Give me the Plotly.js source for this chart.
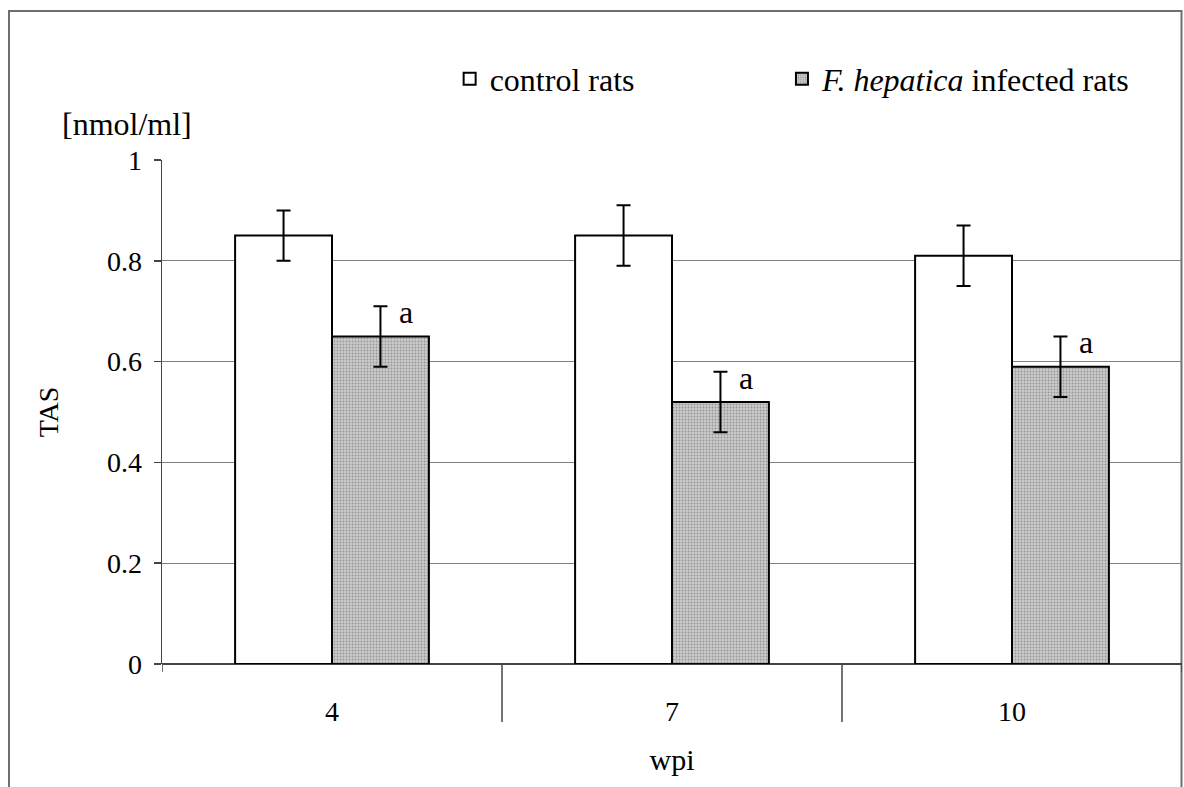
<!DOCTYPE html>
<html>
<head>
<meta charset="utf-8">
<script src="https://cdn.plot.ly/plotly-3.0.1.min.js"></script>
<style>
  html, body { margin: 0; padding: 0; background: #ffffff; }
  #chart { width: 1184px; height: 787px; }
</style>
</head>
<body>
<div id="chart"></div>
<script>
// ---- data ----
const weeks = ['4', '7', '10'];
const controlTAS = [0.85, 0.85, 0.81];
const controlErr = [0.05, 0.06, 0.06];
const infectedTAS = [0.65, 0.52, 0.59];
const infectedErr = [0.06, 0.06, 0.06];
const sigMarks = ['a', 'a', 'a'];
const yTickVals = [0, 0.2, 0.4, 0.6, 0.8, 1];

const serif = '"Liberation Serif", "Times New Roman", Times, serif';
const txt = (size) => ({ family: serif, size: size, color: '#000000' });

const traces = [
  {
    type: 'bar',
    name: 'control rats',
    legend: 'legend',
    x: weeks,
    y: controlTAS,
    marker: { color: '#ffffff', line: { color: '#000000', width: 2 } },
    error_y: { type: 'data', array: controlErr, visible: true, color: '#000000', thickness: 2, width: 7 }
  },
  {
    type: 'bar',
    name: '<i>F. hepatica</i> infected rats',
    legend: 'legend2',
    x: weeks,
    y: infectedTAS,
    marker: {
      color: '#c0c0c0',
      line: { color: '#000000', width: 2 },
      pattern: { shape: '.', fgcolor: '#969696', bgcolor: '#cbcbcb', size: 3, solidity: 0.3 }
    },
    error_y: { type: 'data', array: infectedErr, visible: true, color: '#000000', thickness: 2, width: 7 }
  }
];

// significance letters, placed at the top of each infected error bar (category index on x)
const annotations = weeks.map((w, i) => ({
  x: i, xref: 'x',
  y: infectedTAS[i] + infectedErr[i], yref: 'y',
  text: sigMarks[i],
  showarrow: false,
  xshift: 74, yshift: -6,
  xanchor: 'center', yanchor: 'middle',
  font: txt(32)
}));
annotations.push({
  xref: 'paper', yref: 'paper',
  x: -0.0343, y: 1.071,
  text: '[nmol/ml]', showarrow: false,
  xanchor: 'center', yanchor: 'middle',
  font: txt(32)
});

const shapes = [
  // figure border
  { type: 'rect', xref: 'paper', yref: 'paper', x0: -0.15, x1: 0.9995, y0: -0.3, y1: 1.2956,
    line: { color: '#6e6e6e', width: 2 }, fillcolor: 'rgba(0,0,0,0)', layer: 'below' },
  // category separators below the axis
  { type: 'line', xref: 'x', yref: 'paper', x0: 0.5, x1: 0.5, y0: 0, y1: -0.115, line: { color: '#444444', width: 1.5 } },
  { type: 'line', xref: 'x', yref: 'paper', x0: 1.5, x1: 1.5, y0: 0, y1: -0.115, line: { color: '#444444', width: 1.5 } },
  { type: 'line', xref: 'x', yref: 'paper', x0: 2.5, x1: 2.5, y0: 0, y1: -0.016, line: { color: '#444444', width: 1.5 } },
  { type: 'line', xref: 'x', yref: 'paper', x0: -0.5, x1: -0.5, y0: 0, y1: -0.016, line: { color: '#444444', width: 1.5 } }
];

const legendBase = {
  orientation: 'h',
  y: 1.161, yanchor: 'middle',
  xanchor: 'left',
  font: txt(32),
  bgcolor: 'rgba(0,0,0,0)'
};

const layout = {
  width: 1184,
  height: 787,
  margin: { l: 162, r: 2, t: 160, b: 123 },
  paper_bgcolor: '#ffffff',
  plot_bgcolor: '#ffffff',
  font: txt(28),
  barmode: 'group',
  bargap: 0.43,
  bargroupgap: 0,
  showlegend: true,
  legend: Object.assign({}, legendBase, { x: 0.282 }),
  legend2: Object.assign({}, legendBase, { x: 0.6078 }),
  xaxis: {
    type: 'category',
    range: [-0.5, 2.5],
    showgrid: false,
    showline: false,
    zeroline: false,
    ticks: '',
    ticklabelstandoff: 28,
    tickfont: txt(28),
    title: { text: 'wpi', standoff: 22, font: txt(30) },
    fixedrange: true
  },
  yaxis: {
    range: [0, 1],
    tickvals: yTickVals,
    ticktext: yTickVals.map(v => String(v)),
    ticks: 'outside',
    ticklen: 7,
    tickwidth: 1.5,
    tickcolor: '#444444',
    showline: true,
    linecolor: '#444444',
    linewidth: 1.5,
    showgrid: true,
    gridcolor: '#808080',
    gridwidth: 1.2,
    zeroline: true,
    zerolinecolor: '#444444',
    zerolinewidth: 1.5,
    ticklabelstandoff: 6,
    tickfont: txt(28),
    title: { text: 'TAS', standoff: 40, font: txt(28) },
    fixedrange: true
  },
  annotations: annotations,
  shapes: shapes
};

Plotly.newPlot('chart', traces, layout, { displayModeBar: false, staticPlot: true });
</script>
</body>
</html>
